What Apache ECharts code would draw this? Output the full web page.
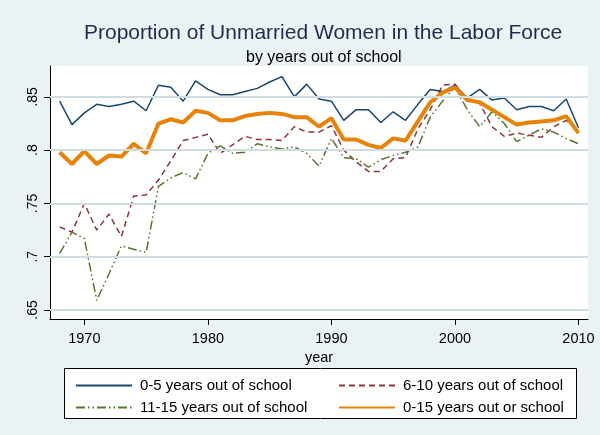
<!DOCTYPE html>
<html>
<head>
<meta charset="utf-8">
<script src="https://cdn.jsdelivr.net/npm/echarts@6/dist/echarts.min.js"></script>
<style>
  html, body { margin: 0; padding: 0; background: #eaf2f3; }
  #chart { width: 600px; height: 435px; }
</style>
</head>
<body>
<div id="chart"></div>
<script>
// years 1968 - 2010
const years = [1968, 1969, 1970, 1971, 1972, 1973, 1974, 1975, 1976, 1977, 1978, 1979, 1980,
  1981, 1982, 1983, 1984, 1985, 1986, 1987, 1988, 1989, 1990, 1991, 1992, 1993, 1994, 1995,
  1996, 1997, 1998, 1999, 2000, 2001, 2002, 2003, 2004, 2005, 2006, 2007, 2008, 2009, 2010]

const out0to5 = [0.846, 0.824, 0.835, 0.843, 0.841, 0.843, 0.846, 0.837, 0.861, 0.859, 0.846,
  0.865, 0.857, 0.852, 0.852, 0.855, 0.858, 0.864, 0.869, 0.850, 0.862, 0.848, 0.846, 0.828,
  0.838, 0.838, 0.826, 0.836, 0.828, 0.843, 0.857, 0.855, 0.861, 0.849, 0.857, 0.847, 0.849,
  0.838, 0.841, 0.841, 0.837, 0.848, 0.821]

const out6to10 = [0.728, 0.723, 0.750, 0.725, 0.740, 0.719, 0.757, 0.758, 0.772, 0.790, 0.809,
  0.812, 0.815, 0.797, 0.805, 0.813, 0.810, 0.810, 0.809, 0.822, 0.817, 0.817, 0.823, 0.800,
  0.789, 0.780, 0.780, 0.792, 0.793, 0.820, 0.838, 0.861, 0.862, 0.848, 0.844, 0.822, 0.813,
  0.816, 0.814, 0.812, 0.822, 0.828, 0.818]

const out11to15 = [0.703, 0.723, 0.717, 0.659, 0.684, 0.710, 0.707, 0.704, 0.766, 0.774, 0.779,
  0.773, 0.797, 0.804, 0.797, 0.798, 0.806, 0.803, 0.801, 0.803, 0.797, 0.785, 0.811, 0.793,
  0.792, 0.784, 0.791, 0.795, 0.798, 0.803, 0.831, 0.846, 0.859, 0.838, 0.822, 0.836, 0.825,
  0.808, 0.814, 0.820, 0.817, 0.811, 0.806]

const out0to15 = [0.798, 0.787, 0.799, 0.787, 0.795, 0.794, 0.806, 0.797, 0.825, 0.829, 0.826,
  0.837, 0.835, 0.828, 0.828, 0.832, 0.834, 0.835, 0.834, 0.831, 0.831, 0.822, 0.830, 0.810,
  0.810, 0.805, 0.802, 0.811, 0.809, 0.827, 0.845, 0.854, 0.859, 0.847, 0.845, 0.838, 0.831,
  0.824, 0.826, 0.827, 0.828, 0.832, 0.816]

const xTicks = [1970, 1980, 1990, 2000, 2010]
const yTicks = [0.65, 0.7, 0.75, 0.8, 0.85]

const font = 'Liberation Sans, Arial, sans-serif'

function pairs (vals) {
  return years.map((y, i) => [y, vals[i]])
}

function line (name, vals, color, width, dash, z) {
  return {
    name: name,
    type: 'line',
    data: pairs(vals),
    symbol: 'none',
    z: z,
    lineStyle: { color: color, width: width, type: dash },
    itemStyle: { color: color }
  }
}

// two legend columns, same look
function legendCol (names, left) {
  return {
    data: names,
    orient: 'vertical',
    left: left,
    top: 373,
    itemWidth: 56,
    itemHeight: 14,
    itemGap: 7,
    itemStyle: { opacity: 0 },
    textStyle: { fontFamily: font, fontSize: 15, color: '#000', padding: [0, 0, 0, 3] }
  }
}

const chart = echarts.init(document.getElementById('chart'))

chart.setOption({
  backgroundColor: '#eaf2f3',
  animation: false,
  title: [
    {
      text: 'Proportion of Unmarried Women in the Labor Force',
      left: 79,
      top: 18,
      textStyle: { fontFamily: font, fontSize: 21, fontWeight: 'normal', color: '#1e2c4f' }
    },
    {
      text: 'by years out of school',
      left: 241,
      top: 45,
      textStyle: { fontFamily: font, fontSize: 16, fontWeight: 'normal', color: '#000' }
    }
  ],
  grid: { left: 50, right: 12, top: 66, bottom: 116, backgroundColor: '#fff', show: true, borderWidth: 0 },
  xAxis: {
    type: 'value',
    min: 1967.22,
    max: 2010.77,
    name: 'year',
    nameLocation: 'middle',
    nameGap: 30,
    nameTextStyle: { fontFamily: font, fontSize: 14.5, color: '#000' },
    axisLine: { onZero: false, lineStyle: { color: '#000', width: 1 } },
    axisTick: { length: 6, customValues: xTicks, lineStyle: { color: '#000' } },
    axisLabel: {
      customValues: xTicks,
      margin: 12,
      fontFamily: font,
      fontSize: 14.5,
      color: '#000',
      formatter: v => String(v)
    },
    splitLine: { show: false }
  },
  yAxis: {
    type: 'value',
    min: 0.6415,
    max: 0.879,
    axisLine: { show: true, onZero: false, lineStyle: { color: '#000', width: 1 } },
    axisTick: { show: true, length: 6, customValues: yTicks, lineStyle: { color: '#000' } },
    axisLabel: {
      customValues: yTicks,
      rotate: 90,
      margin: 10,
      fontFamily: font,
      fontSize: 14,
      color: '#000',
      formatter: v => String(+v.toFixed(2)).replace(/^0/, '')
    },
    splitLine: { show: false }
  },
  // legend box
  graphic: [{
    type: 'rect',
    left: 64,
    top: 368,
    shape: { width: 512, height: 50 },
    style: { fill: '#fff', stroke: '#000', lineWidth: 1 },
    z: -1
  }],
  legend: [
    legendCol(['0-5 years out of school', '11-15 years out of school'], 70),
    legendCol(['6-10 years out of school', '0-15 years out or school'], 333)
  ],
  series: [
    // gridlines at the y ticks
    {
      type: 'line',
      data: pairs(out0to5),
      lineStyle: { opacity: 0 },
      symbol: 'none',
      silent: true,
      z: 1,
      markLine: {
        silent: true,
        symbol: 'none',
        label: { show: false },
        emphasis: { disabled: true },
        lineStyle: { color: '#cfdde0', width: 2, type: 'solid' },
        data: yTicks.map(v => ({ yAxis: v }))
      }
    },
    line('0-5 years out of school', out0to5, '#1a476f', 1.5, 'solid', 3),
    line('6-10 years out of school', out6to10, '#90353b', 1.5, [6, 4], 2),
    line('11-15 years out of school', out11to15, '#55752f', 1.5, [9, 3, 1.5, 3, 1.5, 3], 2),
    line('0-15 years out or school', out0to15, '#e8830a', 4, 'solid', 4)
  ]
})
</script>
</body>
</html>
